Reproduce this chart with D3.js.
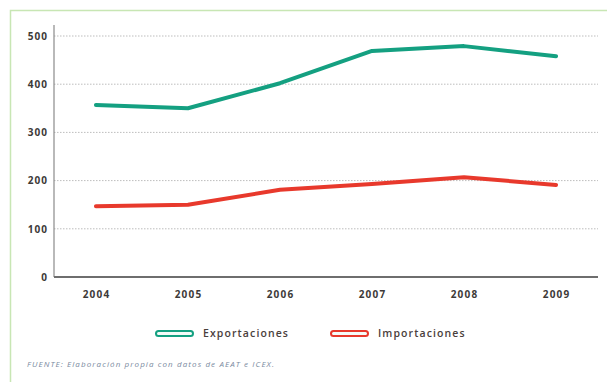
<html>
  <head>
    <style>
      body { margin: 0; background: #fff; }
      text { font-family: "Open Sans", "DejaVu Sans", sans-serif; }
    </style>
  </head>
  <body>
    <svg id="chart" width="607" height="382"></svg>
    <script src="https://cdn.jsdelivr.net/npm/d3@7"></script>
    <script>
      // data
      let years = [2004, 2005, 2006, 2007, 2008, 2009];
      let exportaciones = [357, 350, 402, 469, 479, 458];
      let importaciones = [147, 150, 181, 193, 207, 191];
      let yTicks = [0, 100, 200, 300, 400, 500];
      let seriesNames = ["Exportaciones", "Importaciones"];
      let seriesColors = ["#14a081", "#e8392c"];

      let svg = d3.select("#chart");

      // light green frame
      svg.append("path")
        .attr("d", "M10.5,382 L10.5,10.5 L607,10.5")
        .attr("fill", "none")
        .attr("stroke", "#c8e6b4")
        .attr("stroke-width", 1.5);

      let plotLeft = 54, plotRight = 598, plotTop = 25, plotBottom = 277;

      let x = d3.scalePoint().domain(years).range([plotLeft, plotRight]).padding(0.456);
      let y = d3.scaleLinear().domain([0, 500]).range([plotBottom, 36]);

      // gridlines
      svg.append("g")
        .selectAll("line")
        .data(yTicks.filter((d) => d > 0))
        .enter()
        .append("line")
        .attr("x1", plotLeft)
        .attr("x2", plotRight)
        .attr("y1", (d) => y(d))
        .attr("y2", (d) => y(d))
        .attr("stroke", "#bdbdbd")
        .attr("stroke-width", 1)
        .attr("stroke-dasharray", "1.5,1.5");

      // y axis
      let yAxis = svg.append("g")
        .attr("transform", `translate(${plotLeft},0)`)
        .call(d3.axisLeft(y).tickValues(yTicks).tickSize(0).tickPadding(6));
      yAxis.select(".domain").remove();
      yAxis.append("line")
        .attr("x1", 0).attr("x2", 0)
        .attr("y1", plotTop).attr("y2", plotBottom)
        .attr("stroke", "#8a8a8a").attr("stroke-width", 1.2);
      yAxis.selectAll("text")
        .attr("font-size", 10)
        .attr("font-weight", "bold")
        .attr("letter-spacing", 1)
        .attr("fill", "#3d3a38");

      // x axis
      let xAxis = svg.append("g")
        .attr("transform", `translate(0,${plotBottom})`)
        .call(d3.axisBottom(x).tickSize(0).tickPadding(14));
      xAxis.select(".domain").remove();
      xAxis.append("line")
        .attr("x1", plotLeft).attr("x2", plotRight)
        .attr("y1", 0).attr("y2", 0)
        .attr("stroke", "#6e6e6e").attr("stroke-width", 2.2);
      xAxis.selectAll("text")
        .attr("font-size", 10)
        .attr("font-weight", "bold")
        .attr("letter-spacing", 1.2)
        .attr("fill", "#3d3a38");

      // lines
      let line = d3.line()
        .x((d, i) => x(years[i]))
        .y((d) => y(d));

      [exportaciones, importaciones].forEach((values, i) => {
        svg.append("path")
          .datum(values)
          .attr("d", line)
          .attr("fill", "none")
          .attr("stroke", seriesColors[i])
          .attr("stroke-width", 4)
          .attr("stroke-linecap", "round")
          .attr("stroke-linejoin", "round");
      });

      // legend
      let legend = svg.append("g")
        .selectAll("g")
        .data(seriesNames)
        .enter()
        .append("g")
        .attr("transform", (d, i) => `translate(${156 + i * 175},333.5)`);

      legend.append("rect")
        .attr("x", 0).attr("y", -2.5)
        .attr("width", 37).attr("height", 5)
        .attr("rx", 2.5)
        .attr("fill", "#f4fbf8")
        .attr("stroke", (d, i) => seriesColors[i])
        .attr("stroke-width", 2);

      legend.append("text")
        .attr("x", 47)
        .attr("y", 3.5)
        .attr("font-size", 10.5)
        .attr("font-weight", 600)
        .attr("letter-spacing", 1.1)
        .attr("fill", "#4a403c")
        .text((d) => d);

      // source note
      svg.append("text")
        .attr("x", 27)
        .attr("y", 367)
        .attr("font-size", 8)
        .attr("font-style", "italic")
        .attr("letter-spacing", 1.1)
        .attr("fill", "#7a8aa0")
        .text("FUENTE: Elaboración propia con datos de AEAT e ICEX.");
    </script>
  </body>
</html>
